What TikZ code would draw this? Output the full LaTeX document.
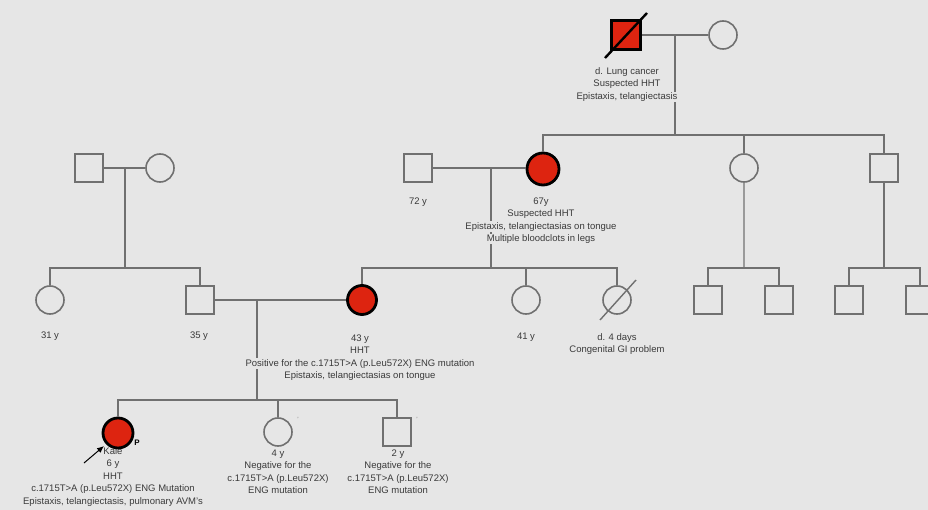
\documentclass[tikz,border=0pt]{standalone}
\usepackage{fontspec}
\setmainfont{Liberation Sans}
\usetikzlibrary{arrows.meta}
\definecolor{bg}{HTML}{E6E6E6}
\definecolor{lc}{HTML}{707070}
\definecolor{lcl}{HTML}{9A9A9A}
\definecolor{hred}{HTML}{DD2410}
\definecolor{tc}{HTML}{3A3A3A}
\newcommand{\bgline}[1]{{\setlength{\fboxsep}{0.8pt}\colorbox{bg}{#1}}}
\tikzset{
  line/.style={draw=lc, line width=1.8pt},
  thinline/.style={draw=lcl, line width=1.2pt},
  male/.style={rectangle, draw=lc, line width=1.8pt, minimum size=28pt, inner sep=0pt, fill=bg},
  female/.style={circle, draw=lc, line width=1.6pt, minimum size=28pt, inner sep=0pt, fill=bg},
  aff/.style={fill=hred, draw=black, line width=2.8pt},
  lbl/.style={font=\fontsize{9.5}{12.5}\selectfont, text=tc, align=center, anchor=north, inner sep=0.2pt},
  tick/.style={font=\fontsize{6}{6}\selectfont, text=lc, inner sep=0pt}
}
\begin{document}
\begin{tikzpicture}[x=1pt,y=-1pt]
\useasboundingbox[fill=bg] (0,0) rectangle (928,510);

% ---- generation I
\node[male, aff, minimum size=29pt] (GF) at (626,35) {};
\node[female] (GM) at (723,35) {};
\draw[black, line width=2.4pt] (605,58) -- (647,13);
\node[male] (PGF) at (89,168) {};
\node[female] (PGM) at (160,168) {};

% ---- generation II
\node[male] (P72) at (418,168) {};
\node[female, aff, minimum size=32pt] (P67) at (543,169) {};
\node[female] (A2) at (744,168) {};
\node[male] (A3) at (884,168) {};

% ---- generation III
\node[female] (P31) at (50,300) {};
\node[male] (P35) at (200,300) {};
\node[female, aff, minimum size=29pt] (P43) at (362,300) {};
\node[female] (P41) at (526,300) {};
\node[female] (D4) at (617,300) {};
\draw[lc, line width=1.4pt] (600,320) -- (636,280);
\node[male] (A2a) at (708,300) {};
\node[male] (A2b) at (779,300) {};
\node[male] (A3a) at (849,300) {};
\node[male] (A3b) at (920,300) {};

% ---- connectors
\draw[line] (GF) -- (GM);
\coordinate (c1) at (675,35);
\coordinate (s1) at (675,135);
\draw[line] (c1) -- (s1);
\draw[line] (s1) -| (P67);
\draw[line] (s1) -| (A2);
\draw[line] (s1) -| (A3);

\draw[line] (PGF) -- (PGM);
\coordinate (c2) at (125,168);
\coordinate (s2) at (125,268);
\draw[line] (c2) -- (s2);
\draw[line] (s2) -| (P31);
\draw[line] (s2) -| (P35);

\draw[line] (P72) -- (P67.west |- P72);
\coordinate (c3) at (491,168);
\coordinate (s3) at (491,268);
\draw[line] (c3) -- (s3);
\draw[line] (s3) -| (P43);
\draw[line] (s3) -| (P41);
\draw[line] (s3) -| (D4);

\coordinate (s4) at (744,268);
\draw[thinline] (A2) -- (s4);
\draw[line] (s4) -| (A2a);
\draw[line] (s4) -| (A2b);

\coordinate (s5) at (884,268);
\draw[line] (A3) -- (s5);
\draw[line] (s5) -| (A3a);
\draw[line] (s5) -| (A3b);

\draw[line] (P35) -- (P43);
\coordinate (c6) at (257,300);
\coordinate (s6) at (257,400);
\draw[line] (c6) -- (s6);

% ---- labels (on top of connectors)
\node[lbl] (tGF) at (627,66.3) {\bgline{d. Lung cancer}\\\bgline{Suspected HHT}\\\bgline{Epistaxis, telangiectasis}};
\node[lbl] (t72) at (418,196.3) {\bgline{72 y}};
\node[lbl] (t67) at (541,196.3) {\bgline{67y}\\\bgline{Suspected HHT}\\\bgline{Epistaxis, telangiectasias on tongue}\\\bgline{Multiple bloodclots in legs}};
\node[lbl] (t31) at (50,330.3) {\bgline{31 y}};
\node[lbl] (t35) at (199,330.3) {\bgline{35 y}};
\node[lbl] (t43) at (360,333.3) {\bgline{43 y}\\\bgline{HHT}\\\bgline{Positive for the c.1715T>A (p.Leu572X) ENG mutation}\\\bgline{Epistaxis, telangiectasias on tongue}};
\node[lbl] (t41) at (526,331.3) {\bgline{41 y}};
\node[lbl] (tD4) at (617,332.3) {\bgline{d. 4 days}\\\bgline{Congenital GI problem}};
\node[lbl] (tKale) at (113,446.3) {\bgline{Kale}\\\bgline{6 y}\\\bgline{HHT}\\\bgline{c.1715T>A (p.Leu572X) ENG Mutation}\\\bgline{Epistaxis, telangiectasis, pulmonary AVM's}};
\node[lbl] (t4) at (278,448.3) {\bgline{4 y}\\\bgline{Negative for the}\\\bgline{c.1715T>A (p.Leu572X)}\\\bgline{ENG mutation}};
\node[lbl] (t2) at (398,448.3) {\bgline{2 y}\\\bgline{Negative for the}\\\bgline{c.1715T>A (p.Leu572X)}\\\bgline{ENG mutation}};

% ---- generation IV (drawn over the labels)
\node[female, aff, minimum size=30pt] (Kale) at (118,433) {};
\node[female] (P4) at (278,432) {};
\node[male] (P2) at (397,432) {};
\node[font=\fontsize{8}{8}\selectfont\bfseries, text=black, inner sep=0pt] (tP) at (137,443) {P};
\coordinate (arrT) at (84,463);
\coordinate (arrH) at (104,446);
\draw[black, line width=1pt, -{Latex[length=7pt,width=6pt]}] (arrT) -- (arrH);
\node[tick] (k4) at (298,419) {'};
\node[tick] (k2) at (417,419) {'};
\draw[line] (s6) -| (Kale);
\draw[line] (s6) -| (P4);
\draw[line] (s6) -| (P2);
\end{tikzpicture}
\end{document}
